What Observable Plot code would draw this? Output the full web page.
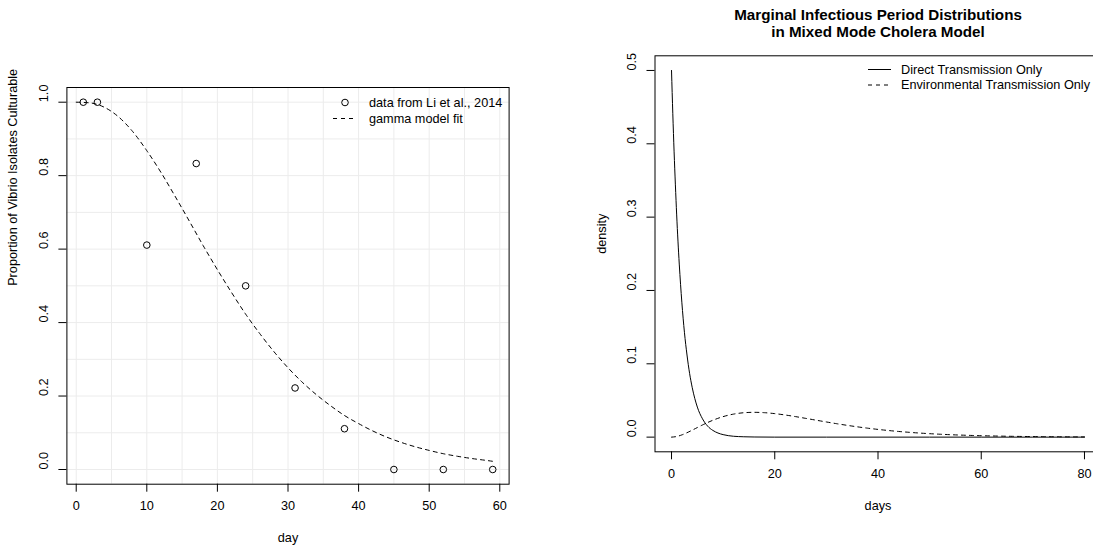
<!DOCTYPE html>
<html>
<head>
<meta charset="utf-8">
<script src="https://cdn.jsdelivr.net/npm/d3@7"></script>
<script src="https://cdn.jsdelivr.net/npm/@observablehq/plot@0.6"></script>
<style>
  html, body { margin: 0; padding: 0; background: white; }
  #wrap { position: relative; width: 1093px; height: 546px; overflow: hidden; background: white; }
  #wrap svg { position: absolute; top: 0; max-width: none; }
</style>
</head>
<body>
<div id="wrap"></div>
<script>
// ---------- Left panel data ----------
const obsDay = [1, 3, 10, 17, 24, 31, 38, 45, 52, 59];
const obsProp = [1.0, 1.0, 0.611, 0.833, 0.5, 0.222, 0.111, 0.0, 0.0, 0.0];
const fitDay = [0, 2, 4, 6, 8, 10, 12, 14, 16, 18, 20, 22, 24, 26, 28, 30, 32, 34, 36, 38, 40, 42, 44, 46, 48, 50, 52, 54, 56, 58, 59.5];
const fitProp = [1.000, 0.998, 0.986, 0.960, 0.920, 0.868, 0.809, 0.744, 0.677, 0.609, 0.544, 0.482, 0.423, 0.370, 0.321, 0.277, 0.238, 0.204, 0.174, 0.147, 0.125, 0.105, 0.088, 0.074, 0.062, 0.052, 0.043, 0.036, 0.030, 0.025, 0.021];
const leftXTicks = [0, 10, 20, 30, 40, 50, 60];
const leftYTicks = [0, 0.2, 0.4, 0.6, 0.8, 1.0];
const leftGridX = [0, 5, 10, 15, 20, 25, 30, 35, 40, 45, 50, 55, 60];
const leftGridY = [0, 0.1, 0.2, 0.3, 0.4, 0.5, 0.6, 0.7, 0.8, 0.9, 1.0];

// ---------- Right panel data ----------
const directDays = [0, 0.25, 0.5, 0.75, 1, 1.5, 2, 2.5, 3, 3.5, 4, 5, 6, 7, 8, 9, 10, 12, 14, 16, 20, 30, 40, 50, 60, 70, 80];
const directDens = [0.5, 0.441, 0.389, 0.344, 0.303, 0.236, 0.184, 0.143, 0.112, 0.087, 0.068, 0.041, 0.025, 0.015, 0.0092, 0.0056, 0.0034, 0.0012, 0.0005, 0.0002, 0, 0, 0, 0, 0, 0, 0];
const envDays = [0, 1, 2, 3, 4, 5, 6, 8, 10, 12, 14, 16, 18, 20, 22, 24, 26, 28, 30, 32, 34, 36, 38, 40, 42, 44, 46, 48, 50, 52, 54, 56, 58, 60, 62, 64, 66, 68, 70, 72, 74, 76, 78, 80];
const envDens = [0, 0.00086, 0.00304, 0.00604, 0.00948, 0.01307, 0.01661, 0.02299, 0.02798, 0.03138, 0.03326, 0.03383, 0.03335, 0.03206, 0.03022, 0.02801, 0.02559, 0.02312, 0.02067, 0.01832, 0.01610, 0.01406, 0.01220, 0.01053, 0.00904, 0.00773, 0.00658, 0.00558, 0.00471, 0.00397, 0.00333, 0.00279, 0.00233, 0.00194, 0.00162, 0.00134, 0.00111, 0.00092, 0.00076, 0.00062, 0.00051, 0.00042, 0.00035, 0.00028];
const rightXTicks = [0, 20, 40, 60, 80];
const rightYTicks = [0, 0.1, 0.2, 0.3, 0.4, 0.5];

const titleLines = ["Marginal Infectious Period Distributions", "in Mixed Mode Cholera Model"];
const leftLegend = ["data from Li et al., 2014", "gamma model fit"];
const rightLegend = ["Direct Transmission Only", "Environmental Transmission Only"];

const FONT = "'Liberation Sans', Arial, Helvetica, sans-serif";
const FS = 12.7;
const fmt1 = d3.format(".1f");

const obs = obsDay.map((d, i) => ({x: d, y: obsProp[i]}));
const fit = fitDay.map((d, i) => ({x: d, y: fitProp[i]}));
const direct = directDays.map((d, i) => ({x: d, y: directDens[i]}));
const env = envDays.map((d, i) => ({x: d, y: envDens[i]}));

const wrap = document.getElementById("wrap");

// ---------- Left plot ----------
const left = Plot.plot({
  width: 546, height: 546,
  marginLeft: 66.4, marginRight: 37.4, marginTop: 87, marginBottom: 62.3,
  style: {fontFamily: FONT, fontSize: FS + "px", color: "black", background: "white"},
  x: {domain: [-1.32, 61.32], label: null},
  y: {domain: [-0.04, 1.04], label: null},
  marks: [
    Plot.gridX(leftGridX, {stroke: "#ececec", strokeOpacity: 1}),
    Plot.gridY(leftGridY, {stroke: "#ececec", strokeOpacity: 1}),
    Plot.line(fit, {x: "x", y: "y", stroke: "black", strokeWidth: 1, strokeDasharray: "4,4", curve: "monotone-x"}),
    Plot.dot(obs, {x: "x", y: "y", r: 3.3, stroke: "black", fill: "none", strokeWidth: 1}),
    Plot.axisX(leftXTicks, {anchor: "bottom", label: null, tickSize: 8, tickPadding: 9, fontSize: FS, tickFormat: d => String(d)}),
    Plot.axisY(leftYTicks, {anchor: "left", label: null, tickSize: 8, tickFormat: () => ""}),
    Plot.text(leftYTicks, {y: d => d, frameAnchor: "left", dx: -23, rotate: -90, text: d => fmt1(d), fontSize: FS}),
    Plot.text(["day"], {frameAnchor: "bottom", lineAnchor: "middle", dy: 54, text: d => d, fontSize: FS}),
    Plot.text(["Proportion of Vibrio Isolates Culturable"], {frameAnchor: "left", lineAnchor: "middle", dx: -53.5, rotate: -90, text: d => d, fontSize: FS}),
    Plot.frame({stroke: "black", strokeWidth: 1})
  ]
});
left.style.left = "0px";
wrap.appendChild(left);
{
  const g = d3.select(left).append("g").attr("font-family", FONT).attr("font-size", FS).attr("text-anchor", "start");
  g.append("circle").attr("cx", 345).attr("cy", 102.5).attr("r", 3.3).attr("fill", "none").attr("stroke", "black");
  g.append("line").attr("x1", 333).attr("x2", 357).attr("y1", 118.5).attr("y2", 118.5)
    .attr("stroke", "black").attr("stroke-dasharray", "4,4");
  leftLegend.forEach((t, i) => {
    g.append("text").attr("x", 369).attr("y", 102.5 + i * 16).attr("dy", "0.35em").attr("fill", "black").text(t);
  });
}

// ---------- Right plot ----------
const right = Plot.plot({
  width: 600, height: 546,
  marginLeft: 108.5, marginRight: 45.5, marginTop: 55.3, marginBottom: 94.7,
  style: {fontFamily: FONT, fontSize: FS + "px", color: "black", background: "white"},
  x: {domain: [-3.2, 83.2], label: null},
  y: {domain: [-0.02, 0.52], label: null},
  marks: [
    Plot.line(env, {x: "x", y: "y", stroke: "black", strokeWidth: 1, strokeDasharray: "4,4", curve: "monotone-x"}),
    Plot.line(direct, {x: "x", y: "y", stroke: "black", strokeWidth: 1, curve: "monotone-x"}),
    Plot.axisX(rightXTicks, {anchor: "bottom", label: null, tickSize: 8, tickPadding: 9, fontSize: FS, tickFormat: d => String(d)}),
    Plot.axisY(rightYTicks, {anchor: "left", label: null, tickSize: 8, tickFormat: () => ""}),
    Plot.text(rightYTicks, {y: d => d, frameAnchor: "left", dx: -23, rotate: -90, text: d => fmt1(d), fontSize: FS}),
    Plot.text(["days"], {frameAnchor: "bottom", lineAnchor: "middle", dy: 54, text: d => d, fontSize: FS}),
    Plot.text(["density"], {frameAnchor: "left", lineAnchor: "middle", dx: -53.5, rotate: -90, text: d => d, fontSize: FS}),
    Plot.text([titleLines[0]], {frameAnchor: "top", lineAnchor: "middle", dy: -40.3, text: d => d, fontSize: 15.2, fontWeight: "bold"}),
    Plot.text([titleLines[1]], {frameAnchor: "top", lineAnchor: "middle", dy: -23.3, text: d => d, fontSize: 15.2, fontWeight: "bold"}),
    Plot.frame({stroke: "black", strokeWidth: 1})
  ]
});
right.style.left = "546px";
wrap.appendChild(right);
{
  const g = d3.select(right).append("g").attr("font-family", FONT).attr("font-size", FS).attr("text-anchor", "start");
  g.append("line").attr("x1", 322).attr("x2", 345).attr("y1", 69.5).attr("y2", 69.5).attr("stroke", "black");
  g.append("line").attr("x1", 322).attr("x2", 345).attr("y1", 85).attr("y2", 85)
    .attr("stroke", "black").attr("stroke-dasharray", "4,4");
  rightLegend.forEach((t, i) => {
    g.append("text").attr("x", 355).attr("y", 69.5 + i * 15.5).attr("dy", "0.35em").attr("fill", "black").text(t);
  });
}
</script>
</body>
</html>
